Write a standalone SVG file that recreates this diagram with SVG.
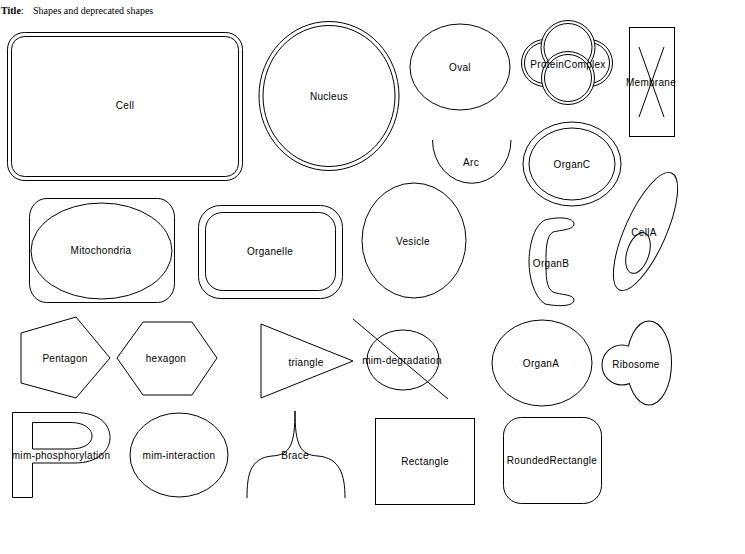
<svg xmlns="http://www.w3.org/2000/svg" width="745" height="554" viewBox="0 0 745 554">
<style>
.s{fill:none;stroke:#000;stroke-width:1}
.w{fill:#fff;stroke:#000;stroke-width:1}
.t{font-family:"Liberation Sans",Arial,sans-serif;font-size:10px;text-anchor:middle;fill:#000;letter-spacing:0.3px}
.ti{font-family:"Liberation Serif","Times New Roman",serif;font-size:10px;fill:#000}
</style>
<rect width="745" height="554" fill="#fff"/>
<g id="title">
<text class="ti" x="1" y="14"><tspan font-weight="bold">Title</tspan>:</text>
<text class="ti" x="33" y="14">Shapes and deprecated shapes</text>
</g>
<g id="connectors"></g>
<g id="Cell">
<rect class="s" x="7.5" y="32.5" width="235" height="148" rx="17"/>
<rect class="s" x="11.5" y="36.5" width="227" height="140" rx="13"/>
<text class="t" x="125" y="109">Cell</text>
</g>
<g id="Nucleus">
<ellipse class="s" cx="329" cy="96" rx="70" ry="74.5"/>
<ellipse class="s" cx="329" cy="96" rx="66" ry="70.5"/>
<text class="t" x="329" y="99.5">Nucleus</text>
</g>
<g id="Oval">
<ellipse class="s" cx="460" cy="67" rx="50" ry="43"/>
<text class="t" x="460" y="70.5">Oval</text>
</g>
<g id="ProteinComplex">
<circle class="w" cx="545" cy="63" r="23.5"/>
<circle class="s" cx="545" cy="63" r="20.5"/>
<circle class="w" cx="589" cy="63" r="23.5"/>
<circle class="s" cx="589" cy="63" r="20.5"/>
<circle class="w" cx="568" cy="47.5" r="27"/>
<circle class="s" cx="568" cy="47.5" r="24"/>
<circle class="w" cx="568" cy="78" r="26.5"/>
<circle class="s" cx="568" cy="78" r="23.5"/>
<text class="t" x="568" y="67.5">ProteinComplex</text>
</g>
<g id="Membrane">
<rect class="s" x="629.5" y="27.5" width="45" height="109"/>
<line class="s" x1="639" y1="47" x2="664" y2="117"/>
<line class="s" x1="664" y1="47" x2="639" y2="117"/>
<text class="t" x="651" y="85.5">Membrane</text>
</g>
<g id="Arc">
<path class="s" d="M432.5,140 A39,43 0 0 0 511,140"/>
<text class="t" x="471" y="165.5">Arc</text>
</g>
<g id="OrganC">
<ellipse class="s" cx="572" cy="164" rx="49" ry="42"/>
<ellipse class="s" cx="572" cy="164" rx="43" ry="36"/>
<text class="t" x="572" y="167.5">OrganC</text>
</g>
<g id="Mitochondria">
<rect class="s" x="29.5" y="198.5" width="145" height="104" rx="17" ry="19"/>
<ellipse class="s" cx="101.5" cy="251" rx="70.5" ry="48"/>
<text class="t" x="101" y="253.5">Mitochondria</text>
</g>
<g id="Organelle">
<rect class="s" x="198.5" y="205.5" width="144" height="93" rx="22"/>
<rect class="s" x="205.5" y="212.5" width="130" height="78" rx="17"/>
<text class="t" x="270" y="254.5">Organelle</text>
</g>
<g id="Vesicle">
<ellipse class="s" cx="414" cy="240.5" rx="52" ry="57.5"/>
<text class="t" x="413" y="244.5">Vesicle</text>
</g>
<g id="OrganB">
<path class="s" d="M545,220 C560,216 574,218 574,224 C574,230 560,230 553,232 C546,236 546,250 546,262 C546,276 546,288 553,292 C560,295 574,294 574,300 C574,306 560,307 545,304 C533,296 529,275 529,262 C529,248 533,226 545,220 Z"/>
<text class="t" x="551" y="266.5">OrganB</text>
</g>
<g id="CellA">
<ellipse class="s" cx="645.5" cy="231.5" rx="64" ry="20.5" transform="rotate(-66 645.5 231.5)"/>
<ellipse class="s" cx="638" cy="253" rx="21" ry="11" transform="rotate(-72 638 253)"/>
<text class="t" x="644" y="235.5">CellA</text>
</g>
<g id="Pentagon">
<polygon class="s" points="21,333 76,317 110,358 76,398 21,383"/>
<text class="t" x="65" y="361.5">Pentagon</text>
</g>
<g id="hexagon">
<polygon class="s" points="117,358 143,322 192,322 217,358 192,395 143,395"/>
<text class="t" x="166" y="362">hexagon</text>
</g>
<g id="triangle">
<polygon class="s" points="261,324 353,361 261,398"/>
<text class="t" x="306" y="365.5">triangle</text>
</g>
<g id="mim-degradation">
<ellipse class="s" cx="403" cy="360" rx="36" ry="30"/>
<line class="s" x1="353" y1="319" x2="448" y2="399"/>
<text class="t" x="402" y="363.5">mim-degradation</text>
</g>
<g id="OrganA">
<ellipse class="s" cx="542" cy="363" rx="50" ry="43"/>
<text class="t" x="541" y="366.5">OrganA</text>
</g>
<g id="Ribosome">
<circle cx="622" cy="365" r="19.5" fill="none" stroke="#000" stroke-width="2"/>
<ellipse cx="649" cy="363" rx="22" ry="41.5" fill="none" stroke="#000" stroke-width="2"/>
<circle cx="622" cy="365" r="19.5" fill="#fff"/>
<ellipse cx="649" cy="363" rx="22" ry="41.5" fill="#fff"/>
<text class="t" x="636" y="367.5">Ribosome</text>
</g>
<g id="mim-phosphorylation">
<path class="s" d="M12.5,412.5 L75,412.5 C100,412.5 110,425 110,437.5 C110,452 96,463 75,463 L32.5,463 L32.5,497.5 L12.5,497.5 Z"/>
<path class="s" d="M32.5,422.5 L70,422.5 C86,422.5 92,430 92,436 C92,443 85,449 70,449 L32.5,449 Z"/>
<text class="t" x="61" y="458.5">mim-phosphorylation</text>
</g>
<g id="mim-interaction">
<ellipse class="s" cx="179" cy="455" rx="49" ry="42"/>
<text class="t" x="179" y="458.5">mim-interaction</text>
</g>
<g id="Brace">
<path class="s" d="M247,498 C247,475 250,458 272,456 C290,455 295,445 295,411 C295,445 300,455 318,456 C340,458 345,475 345,498"/>
<text class="t" x="295" y="458.5">Brace</text>
</g>
<g id="Rectangle">
<rect class="s" x="375.5" y="418.5" width="99" height="86"/>
<text class="t" x="425" y="464.5">Rectangle</text>
</g>
<g id="RoundedRectangle">
<rect class="s" x="503.5" y="417.5" width="98" height="86" rx="18"/>
<text class="t" x="552" y="463.5">RoundedRectangle</text>
</g>
</svg>
